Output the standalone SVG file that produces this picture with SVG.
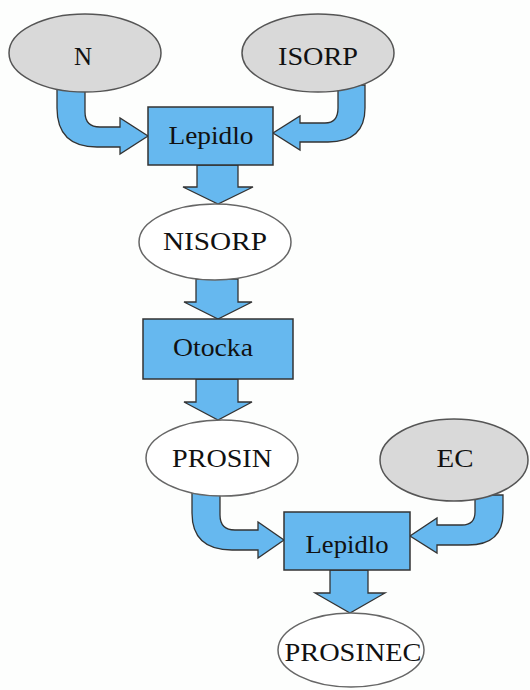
<svg xmlns="http://www.w3.org/2000/svg" width="530" height="690" viewBox="0 0 530 690">
<style>
.in{fill:#d9d9d9;stroke:#555;stroke-width:1.5}
.mid{fill:#ffffff;stroke:#666;stroke-width:1.5}
.box{fill:#66b8ef;stroke:#333;stroke-width:1.5}
.arr{fill:#66b8ef;stroke:#333;stroke-width:1.3;stroke-linejoin:miter}
.t{font-family:'Liberation Serif','DejaVu Serif',serif;font-size:25px;fill:#111;text-anchor:middle}
</style>
<rect width="530" height="690" fill="#fdfefd"/>
<g id="connectors">
<path class="arr" d="M57,85 L57,108 Q57,147 97,147 L120,147 L120,154 L148,136 L120,118 L120,127 L100,127 Q85,127 85,112 L85,85 Z"/>
<path class="arr" d="M365,85 L365,108 Q365,142 328,142 L300,142 L300,150 L273,133 L300,116 L300,123 L325,123 Q338,123 338,108 L338,85 Z"/>
<path class="arr" d="M197,165 L238,165 L238,187 L253,187 L218,204 L183,187 L197,187 Z"/>
<path class="arr" d="M196,279 L238,279 L238,302 L252,302 L218,319 L184,302 L196,302 Z"/>
<path class="arr" d="M196,379 L238,379 L238,402 L252,402 L218,420 L184,402 L196,402 Z"/>
<path class="arr" d="M192,488 L192,513 Q192,550 232,550 L258,550 L258,558 L284,540 L258,522 L258,530 L235,530 Q220,530 220,515 L220,488 Z"/>
<path class="arr" d="M503,495 L503,513 Q503,545 468,545 L437,545 L437,553 L410,536 L437,518 L437,525 L462,525 Q475,525 475,512 L475,495 Z"/>
<path class="arr" d="M330,570 L368,570 L368,593 L385,593 L350,613 L315,593 L330,593 Z"/>
</g>
<g id="N"><ellipse class="in" cx="85" cy="53" rx="76" ry="39"/><text class="t" font-family="Liberation Serif, serif" x="83" y="65">N</text></g>
<g id="ISORP"><ellipse class="in" cx="318" cy="53" rx="76" ry="39"/><text class="t" font-family="Liberation Serif, serif" x="318" y="65" textLength="80" lengthAdjust="spacingAndGlyphs">ISORP</text></g>
<g id="Lepidlo1"><rect class="box" x="148" y="107" width="125" height="58"/><text class="t" font-family="Liberation Serif, serif" x="211" y="144" textLength="85" lengthAdjust="spacingAndGlyphs">Lepidlo</text></g>
<g id="NISORP"><ellipse class="mid" cx="215" cy="242" rx="76" ry="38"/><text class="t" font-family="Liberation Serif, serif" x="215" y="250" textLength="104" lengthAdjust="spacingAndGlyphs">NISORP</text></g>
<g id="Otocka"><rect class="box" x="143" y="319" width="150" height="60"/><text class="t" font-family="Liberation Serif, serif" x="213" y="356" textLength="80" lengthAdjust="spacingAndGlyphs">Otocka</text></g>
<g id="PROSIN"><ellipse class="mid" cx="222" cy="458" rx="76" ry="38"/><text class="t" font-family="Liberation Serif, serif" x="222" y="467" textLength="100" lengthAdjust="spacingAndGlyphs">PROSIN</text></g>
<g id="EC"><ellipse class="in" cx="454" cy="460" rx="74" ry="41"/><text class="t" font-family="Liberation Serif, serif" x="455" y="467" textLength="37" lengthAdjust="spacingAndGlyphs">EC</text></g>
<g id="Lepidlo2"><rect class="box" x="284" y="512" width="126" height="58"/><text class="t" font-family="Liberation Serif, serif" x="347" y="553" textLength="83" lengthAdjust="spacingAndGlyphs">Lepidlo</text></g>
<g id="PROSINEC"><ellipse class="mid" cx="351" cy="650" rx="73" ry="37"/><text class="t" font-family="Liberation Serif, serif" x="353" y="661" textLength="137" lengthAdjust="spacingAndGlyphs">PROSINEC</text></g>
</svg>
